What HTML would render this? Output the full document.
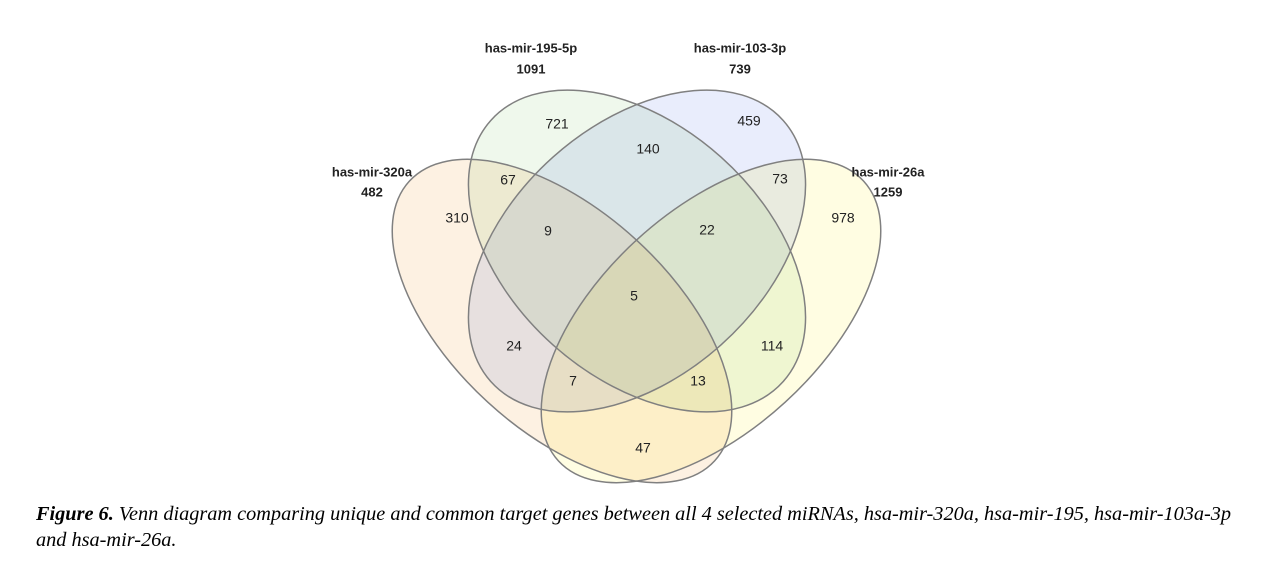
<!DOCTYPE html>
<html><head><meta charset="utf-8"><style>
html,body{margin:0;padding:0;background:#fff;}
body{width:1261px;height:561px;position:relative;overflow:hidden;}
svg{position:absolute;left:0;top:0;}
.cap{position:absolute;left:36px;top:501px;width:1220px;font-family:"Liberation Serif",serif;font-style:italic;font-size:20.3px;line-height:26px;color:#000;}
</style></head><body>
<svg width="1261" height="561" viewBox="0 0 1261 561">
<g style="isolation:isolate">
<ellipse cx="562" cy="321" rx="207" ry="110" transform="rotate(42.5 562 321)" fill="#fdf1e2" style="mix-blend-mode:multiply"/>
<ellipse cx="711" cy="321" rx="207" ry="110" transform="rotate(-42.5 711 321)" fill="#fffde2" style="mix-blend-mode:multiply"/>
<ellipse cx="637" cy="251" rx="196" ry="126" transform="rotate(41.8 637 251)" fill="#eff8ec" style="mix-blend-mode:multiply"/>
<ellipse cx="637" cy="251" rx="196" ry="126" transform="rotate(-41.8 637 251)" fill="#e9edfc" style="mix-blend-mode:multiply"/>
</g>
<g fill="none" stroke="#808080" stroke-width="1.5">
<ellipse cx="562" cy="321" rx="207" ry="110" transform="rotate(42.5 562 321)"/>
<ellipse cx="711" cy="321" rx="207" ry="110" transform="rotate(-42.5 711 321)"/>
<ellipse cx="637" cy="251" rx="196" ry="126" transform="rotate(41.8 637 251)"/>
<ellipse cx="637" cy="251" rx="196" ry="126" transform="rotate(-41.8 637 251)"/>
</g>
<g font-family="Liberation Sans, sans-serif" font-size="14" fill="#222" text-anchor="middle" dominant-baseline="middle">
<text x="557" y="125">721</text><text x="749" y="122">459</text><text x="648" y="150">140</text>
<text x="508" y="181">67</text><text x="780" y="180">73</text>
<text x="457" y="219">310</text><text x="548" y="232">9</text><text x="707" y="231">22</text><text x="843" y="219">978</text>
<text x="634" y="297">5</text><text x="514" y="347">24</text><text x="772" y="347">114</text>
<text x="573" y="382">7</text><text x="698" y="382">13</text><text x="643" y="449">47</text>
</g>
<g font-family="Liberation Sans, sans-serif" font-size="13" font-weight="bold" fill="#222" text-anchor="middle" dominant-baseline="middle">
<text x="531" y="49">has-mir-195-5p</text><text x="531" y="70">1091</text>
<text x="740" y="49">has-mir-103-3p</text><text x="740" y="70">739</text>
<text x="372" y="173">has-mir-320a</text><text x="372" y="193">482</text>
<text x="888" y="173">has-mir-26a</text><text x="888" y="193">1259</text>
</g>
</svg>
<div class="cap"><b>Figure 6.</b> Venn diagram comparing unique and common target genes between all 4 selected miRNAs, hsa-mir-320a, hsa-mir-195, hsa-mir-103a-3p and hsa-mir-26a.</div>
</body></html>
